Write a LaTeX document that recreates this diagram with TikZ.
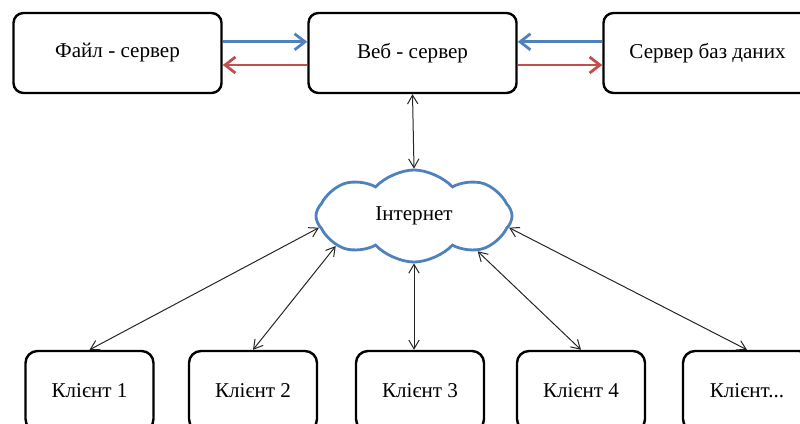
\documentclass[tikz,border=0pt]{standalone}
\usepackage{fontspec}
\setmainfont{Liberation Serif}
\usetikzlibrary{shapes.symbols, arrows.meta}
\definecolor{netblue}{RGB}{79,129,189}
\definecolor{netred}{RGB}{192,80,77}
\tikzstyle{server} = [rectangle, draw = black, line width = 0.6mm, rounded corners = 2.5mm, minimum width = 5.2cm, minimum height = 2cm, font = \fontsize{15}{18}\selectfont]
\tikzstyle{client} = [rectangle, draw = black, line width = 0.6mm, rounded corners = 3mm, minimum width = 3.2cm, minimum height = 2cm, font = \fontsize{15}{18}\selectfont]
\tikzstyle{net} = [cloud, draw = netblue, line width = 0.7mm, cloud puffs = 8, cloud puff arc = 95, aspect = 2.1, minimum width = 4.9cm, minimum height = 2.3cm, inner sep = 0pt, font = \fontsize{15}{18}\selectfont]
\tikzstyle{link} = [{Straight Barb[length = 2.2mm, width = 2.6mm]}-{Straight Barb[length = 2.2mm, width = 2.6mm]}, line width = 0.25mm, black!85]
\tikzstyle{flow} = [-{Straight Barb[length = 2.6mm, width = 4mm]}, line width = 0.7mm]

\begin{document}
\begin{tikzpicture}[x = 0.025cm, y = -0.025cm]
    \useasboundingbox (0, 0) rectangle (800, 423);
    \clip (0, 0) rectangle (800, 423);
    \node (F) at (117.5, 53) [server] {Файл - сервер};
    \node (W) at (412.5, 53) [server] {Веб - сервер};
    \node (DB) at (707.5, 53) [server] {Сервер баз даних};
    \node (I) at (414, 216) [net] {Інтернет};
    \node (K1) at (89.5, 391) [client] {Клієнт 1};
    \node (K2) at (253, 391) [client] {Клієнт 2};
    \node (K3) at (420, 391) [client] {Клієнт 3};
    \node (K4) at (581, 391) [client] {Клієнт 4};
    \node (K5) at (747, 391) [client] {Клієнт...};
    \draw [flow, netblue] ([yshift = 2.8mm] F.east) -- ([yshift = 2.8mm] W.west);
    \draw [flow, netred] ([yshift = -3mm] W.west) -- ([yshift = -3mm] F.east);
    \draw [flow, netblue] ([yshift = 2.8mm] DB.west) -- ([yshift = 2.8mm] W.east);
    \draw [flow, netred] ([yshift = -3mm] W.east) -- ([yshift = -3mm] DB.west);
    \draw [link] (W.south) -- (I.north);
    \draw [link] (I.187) -- (K1.north);
    \draw [link] (I.201) -- (K2.north);
    \draw [link] (I.south) -- (I.south |- K3.north);
    \draw [link] (I.331) -- (K4.north);
    \draw [link] (I.353) -- (K5.north);
\end{tikzpicture}
\end{document}
